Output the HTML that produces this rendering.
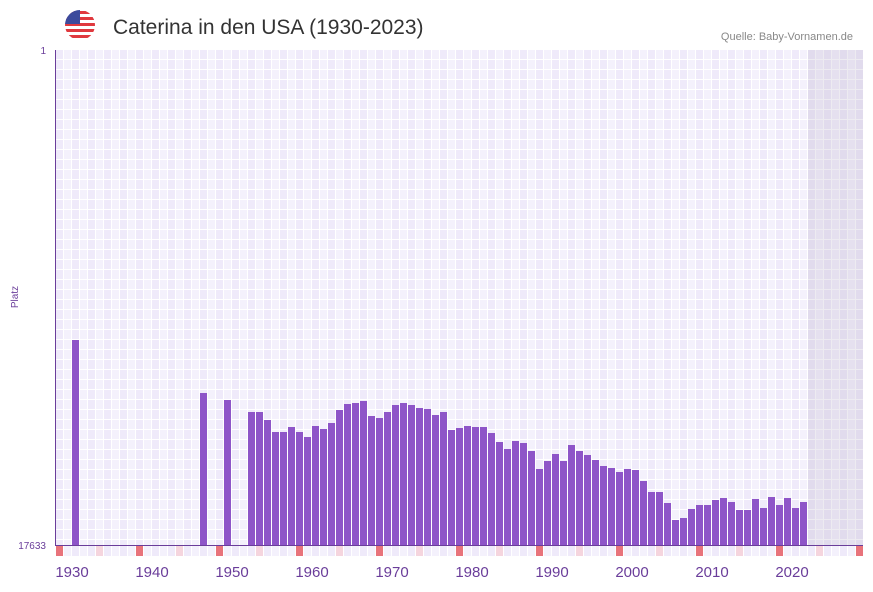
<!DOCTYPE html>
<html><head><meta charset="utf-8"><style>
body{margin:0;background:#fff;width:873px;height:587px;overflow:hidden;font-family:"Liberation Sans",sans-serif}
</style></head><body>
<svg width="873" height="587" xmlns="http://www.w3.org/2000/svg" font-family="Liberation Sans, sans-serif">
<defs>
<pattern id="g" x="56" y="50" width="16" height="10" patternUnits="userSpaceOnUse">
<rect width="8" height="10" fill="#efeafa"/><rect x="8" width="8" height="10" fill="#f4f1fc"/>
<rect x="7" width="1" height="10" fill="#fff"/><rect x="15" width="1" height="10" fill="#fff"/>
<rect y="9" width="16" height="1" fill="#fff"/>
</pattern>
<pattern id="s" x="56" y="546" width="16" height="10" patternUnits="userSpaceOnUse">
<rect width="8" height="10" fill="#efeafa"/><rect x="8" width="8" height="10" fill="#f4f1fc"/>
<rect x="7" width="1" height="10" fill="#fff"/><rect x="15" width="1" height="10" fill="#fff"/>
</pattern>
<clipPath id="fc"><circle cx="80" cy="25" r="15"/></clipPath>
</defs>
<g clip-path="url(#fc)">
<rect x="65" y="10" width="30" height="30" fill="#fff"/>
<rect x="65" y="11" width="30" height="3" fill="#e0393e"/>
<rect x="65" y="17" width="30" height="3" fill="#e0393e"/>
<rect x="65" y="23" width="30" height="3" fill="#e0393e"/>
<rect x="65" y="29" width="30" height="3" fill="#e0393e"/>
<rect x="65" y="35" width="30" height="3" fill="#e0393e"/>
<rect x="65" y="10" width="15" height="14" fill="#3c4a9c"/>
</g>
<text x="113" y="34" font-size="21" fill="#333">Caterina in den USA (1930-2023)</text>
<text x="853" y="40" font-size="11" fill="#888" text-anchor="end">Quelle: Baby-Vornamen.de</text>
<rect x="56" y="50" width="807" height="495" fill="url(#g)"/>
<rect x="808" y="50" width="55" height="495" fill="#b8b0c8" opacity="0.25"/>
<rect x="56" y="546" width="807" height="10" fill="url(#s)"/>
<g fill="#e8737b">
<rect x="56" y="546" width="7" height="10"/><rect x="136" y="546" width="7" height="10"/><rect x="216" y="546" width="7" height="10"/><rect x="296" y="546" width="7" height="10"/><rect x="376" y="546" width="7" height="10"/><rect x="456" y="546" width="7" height="10"/><rect x="536" y="546" width="7" height="10"/><rect x="616" y="546" width="7" height="10"/><rect x="696" y="546" width="7" height="10"/><rect x="776" y="546" width="7" height="10"/><rect x="856" y="546" width="7" height="10"/>
</g>
<g fill="#f5d5de">
<rect x="96" y="546" width="7" height="10"/><rect x="176" y="546" width="7" height="10"/><rect x="256" y="546" width="7" height="10"/><rect x="336" y="546" width="7" height="10"/><rect x="416" y="546" width="7" height="10"/><rect x="496" y="546" width="7" height="10"/><rect x="576" y="546" width="7" height="10"/><rect x="656" y="546" width="7" height="10"/><rect x="736" y="546" width="7" height="10"/><rect x="816" y="546" width="7" height="10"/>
</g>
<g fill="#8e55c8">
<rect x="72" y="340" width="7" height="205"/>
<rect x="200" y="393" width="7" height="152"/>
<rect x="224" y="400" width="7" height="145"/>
<rect x="248" y="412" width="7" height="133"/>
<rect x="256" y="412" width="7" height="133"/>
<rect x="264" y="420" width="7" height="125"/>
<rect x="272" y="432" width="7" height="113"/>
<rect x="280" y="432" width="7" height="113"/>
<rect x="288" y="427" width="7" height="118"/>
<rect x="296" y="432" width="7" height="113"/>
<rect x="304" y="437" width="7" height="108"/>
<rect x="312" y="426" width="7" height="119"/>
<rect x="320" y="429" width="7" height="116"/>
<rect x="328" y="423" width="7" height="122"/>
<rect x="336" y="410" width="7" height="135"/>
<rect x="344" y="404" width="7" height="141"/>
<rect x="352" y="403" width="7" height="142"/>
<rect x="360" y="401" width="7" height="144"/>
<rect x="368" y="416" width="7" height="129"/>
<rect x="376" y="418" width="7" height="127"/>
<rect x="384" y="412" width="7" height="133"/>
<rect x="392" y="405" width="7" height="140"/>
<rect x="400" y="403" width="7" height="142"/>
<rect x="408" y="405" width="7" height="140"/>
<rect x="416" y="408" width="7" height="137"/>
<rect x="424" y="409" width="7" height="136"/>
<rect x="432" y="415" width="7" height="130"/>
<rect x="440" y="412" width="7" height="133"/>
<rect x="448" y="430" width="7" height="115"/>
<rect x="456" y="428" width="7" height="117"/>
<rect x="464" y="426" width="7" height="119"/>
<rect x="472" y="427" width="7" height="118"/>
<rect x="480" y="427" width="7" height="118"/>
<rect x="488" y="433" width="7" height="112"/>
<rect x="496" y="442" width="7" height="103"/>
<rect x="504" y="449" width="7" height="96"/>
<rect x="512" y="441" width="7" height="104"/>
<rect x="520" y="443" width="7" height="102"/>
<rect x="528" y="451" width="7" height="94"/>
<rect x="536" y="469" width="7" height="76"/>
<rect x="544" y="461" width="7" height="84"/>
<rect x="552" y="454" width="7" height="91"/>
<rect x="560" y="461" width="7" height="84"/>
<rect x="568" y="445" width="7" height="100"/>
<rect x="576" y="451" width="7" height="94"/>
<rect x="584" y="455" width="7" height="90"/>
<rect x="592" y="460" width="7" height="85"/>
<rect x="600" y="466" width="7" height="79"/>
<rect x="608" y="468" width="7" height="77"/>
<rect x="616" y="472" width="7" height="73"/>
<rect x="624" y="469" width="7" height="76"/>
<rect x="632" y="470" width="7" height="75"/>
<rect x="640" y="481" width="7" height="64"/>
<rect x="648" y="492" width="7" height="53"/>
<rect x="656" y="492" width="7" height="53"/>
<rect x="664" y="503" width="7" height="42"/>
<rect x="672" y="520" width="7" height="25"/>
<rect x="680" y="518" width="7" height="27"/>
<rect x="688" y="509" width="7" height="36"/>
<rect x="696" y="505" width="7" height="40"/>
<rect x="704" y="505" width="7" height="40"/>
<rect x="712" y="500" width="7" height="45"/>
<rect x="720" y="498" width="7" height="47"/>
<rect x="728" y="502" width="7" height="43"/>
<rect x="736" y="510" width="7" height="35"/>
<rect x="744" y="510" width="7" height="35"/>
<rect x="752" y="499" width="7" height="46"/>
<rect x="760" y="508" width="7" height="37"/>
<rect x="768" y="497" width="7" height="48"/>
<rect x="776" y="505" width="7" height="40"/>
<rect x="784" y="498" width="7" height="47"/>
<rect x="792" y="508" width="7" height="37"/>
<rect x="800" y="502" width="7" height="43"/>
</g>
<rect x="55" y="50" width="1" height="496" fill="#6a3d9a"/>
<rect x="55" y="545" width="808" height="1" fill="#6a3d9a"/>
<text x="46" y="54" font-size="10" fill="#6a3d9a" text-anchor="end">1</text>
<text x="46" y="549" font-size="10" fill="#6a3d9a" text-anchor="end">17633</text>
<text transform="translate(18,297) rotate(-90)" font-size="10" fill="#6a3d9a" text-anchor="middle">Platz</text>
<g font-size="15" fill="#6a3d9a" text-anchor="middle">
<text x="72" y="577">1930</text><text x="152" y="577">1940</text><text x="232" y="577">1950</text><text x="312" y="577">1960</text><text x="392" y="577">1970</text><text x="472" y="577">1980</text><text x="552" y="577">1990</text><text x="632" y="577">2000</text><text x="712" y="577">2010</text><text x="792" y="577">2020</text>
</g>
</svg>
</body></html>
